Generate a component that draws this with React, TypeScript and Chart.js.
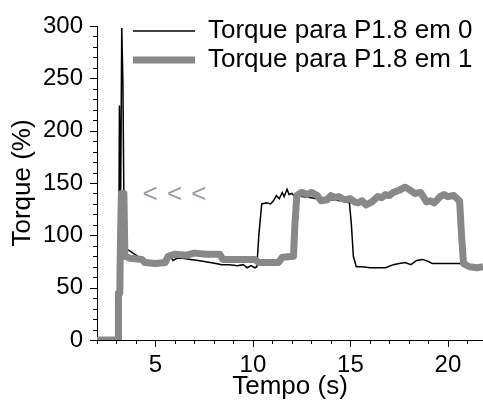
import React, { useEffect, useRef } from 'react';
import { Chart, registerables } from 'chart.js';

Chart.register(...registerables);

const FONT = "'Liberation Sans', Arial, Helvetica, sans-serif";

// [tempo (s), torque (%)]
const torqueP0: [number, number][] = [
  [2.0, 0], [3.1, 0], [3.15, 224], [3.21, 130], [3.27, 298], [3.33, 245], [3.4, 86],
  [3.6, 86], [3.85, 83], [4.1, 80], [4.35, 77], [4.7, 75], [5.1, 74], [5.5, 74],
  [5.65, 76], [5.75, 80], [5.9, 76], [6.1, 78], [6.4, 78], [6.8, 77], [7.2, 76],
  [7.5, 75], [7.8, 74], [8.1, 73], [8.4, 72], [8.8, 72], [9.2, 71], [9.5, 72],
  [9.7, 69], [9.9, 71], [10.1, 69], [10.2, 70], [10.3, 100], [10.45, 130], [10.7, 131],
  [10.9, 130], [11.05, 133], [11.2, 138], [11.35, 135], [11.5, 141], [11.6, 137],
  [11.75, 144], [11.85, 139], [12.0, 140], [12.1, 138], [12.5, 137], [13.0, 136],
  [13.5, 134], [14.0, 134], [14.5, 133], [14.95, 131], [15.05, 110], [15.15, 80],
  [15.3, 70], [15.6, 70], [16.0, 69], [16.4, 69], [16.8, 69], [17.2, 72], [17.5, 73],
  [17.8, 74], [18.1, 72], [18.4, 76], [18.7, 77], [19.0, 75], [19.2, 73], [19.5, 73],
  [19.9, 73], [20.3, 73], [20.6, 73], [21.0, 71], [21.4, 70], [21.8, 70],
];

const torqueP1: [number, number][] = [
  [2.0, 0], [3.08, 0], [3.1, 45], [3.17, 45], [3.2, 90], [3.25, 140], [3.38, 140],
  [3.43, 80], [3.7, 78], [4.3, 77], [4.45, 74], [5.0, 73], [5.5, 74], [5.65, 80],
  [6.0, 82], [6.6, 81], [7.0, 83], [7.6, 82], [8.3, 82], [8.45, 77], [9.0, 77],
  [10.1, 77], [10.3, 74], [11.3, 74], [11.5, 79], [12.08, 80], [12.15, 110],
  [12.25, 138], [12.5, 141], [12.8, 139], [13.0, 141], [13.3, 138], [13.5, 133],
  [13.8, 134], [14.0, 138], [14.2, 136], [14.4, 137], [14.7, 134], [15.0, 135],
  [15.2, 132], [15.4, 131], [15.6, 133], [15.8, 129], [16.1, 132], [16.4, 137],
  [16.6, 136], [16.8, 139], [17.0, 138], [17.2, 141], [17.5, 143], [17.8, 146],
  [18.0, 144], [18.3, 140], [18.6, 141], [18.9, 132], [19.1, 133], [19.3, 131],
  [19.6, 137], [19.8, 139], [20.0, 137], [20.3, 138], [20.6, 133], [20.7, 100],
  [20.8, 73], [21.1, 70], [21.5, 69], [21.8, 70],
];

const seriesLabels = ['Torque para P1.8 em 0', 'Torque para P1.8 em 1'];
const xTitle = 'Tempo (s)';
const yTitle = 'Torque (%)';
const xRange = [2, 21.8];
const yRange = [0, 300];
const xMinorStep = 1;
const xMajorStep = 5;
const yMinorStep = 10;
const yMajorStep = 50;
const annotationText = '< < <';
const annotationAt = { x: 6.0, y: 139 };

const tickMarks = {
  id: 'tickMarks',
  afterDraw(chart: any) {
    const { ctx } = chart;
    const xs = chart.scales.x;
    const ys = chart.scales.y;
    ctx.save();
    ctx.strokeStyle = '#000';
    ctx.lineWidth = 1;
    ctx.beginPath();
    xs.ticks.forEach((t: any) => {
      const px = Math.round(xs.getPixelForValue(t.value)) + 0.5;
      const len = Math.abs(t.value % xMajorStep) < 1e-6 ? 7 : 4;
      ctx.moveTo(px, xs.top);
      ctx.lineTo(px, xs.top + len);
    });
    ys.ticks.forEach((t: any) => {
      const py = Math.round(ys.getPixelForValue(t.value)) + 0.5;
      const len = Math.abs(t.value % yMajorStep) < 1e-6 ? 7 : 4;
      ctx.moveTo(ys.right, py);
      ctx.lineTo(ys.right - len, py);
    });
    ctx.stroke();
    // annotation
    ctx.fillStyle = '#9a9aa8';
    ctx.font = `26px ${FONT}`;
    ctx.textAlign = 'center';
    ctx.textBaseline = 'middle';
    try { (ctx as any).letterSpacing = '1px'; } catch (e) {}
    ctx.fillText(annotationText, xs.getPixelForValue(annotationAt.x), ys.getPixelForValue(annotationAt.y));
    ctx.restore();
  },
};

const legendPlace = {
  id: 'legendPlace',
  afterLayout(chart: any) {
    const lg = chart.legend;
    const ca = chart.chartArea;
    if (!lg || !ca) return;
    lg.left = ca.left + 33;
    lg.right = ca.right;
    lg.top = ca.top - 11;
    lg.bottom = ca.bottom;
    lg.width = lg.right - lg.left;
    lg.height = lg.bottom - lg.top;
  },
};

export default function App() {
  const ref = useRef<HTMLCanvasElement | null>(null);

  useEffect(() => {
    if (!ref.current) return;
    const chart = new Chart(ref.current, {
      type: 'line',
      data: {
        datasets: [
          {
            label: seriesLabels[0],
            data: torqueP0.map(([x, y]) => ({ x, y })),
            borderColor: '#000000',
            backgroundColor: '#000000',
            borderWidth: 1.5,
            pointRadius: 0,
            tension: 0,
            order: 1,
            clip: 0,
          },
          {
            label: seriesLabels[1],
            data: torqueP1.map(([x, y]) => ({ x, y })),
            borderColor: '#888888',
            backgroundColor: '#888888',
            borderWidth: 7,
            borderJoinStyle: 'round',
            pointRadius: 0,
            tension: 0,
            order: 0,
            clip: 0,
          },
        ],
      },
      options: {
        responsive: false,
        animation: false,
        devicePixelRatio: 1,
        layout: { padding: { top: 24, right: 0, bottom: 0, left: 0 } },
        plugins: {
          tooltip: { enabled: false },
          legend: {
            position: 'chartArea',
            align: 'start',
            labels: {
              font: { family: FONT, size: 26, lineHeight: 1 },
              color: '#000',
              usePointStyle: true,
              pointStyle: 'line',
              pointStyleWidth: 62,
              padding: 3,
              sort: (a: any, b: any) => a.datasetIndex - b.datasetIndex,
            },
          },
        },
        scales: {
          x: {
            type: 'linear',
            min: xRange[0],
            max: xRange[1],
            afterFit: (s: any) => { s.height = 63; },
            grid: { display: false, drawTicks: false },
            border: { display: true, color: '#000', width: 1 },
            ticks: {
              stepSize: xMinorStep,
              includeBounds: false,
              autoSkip: false,
              maxRotation: 0,
              padding: 13,
              color: '#000',
              font: { family: FONT, size: 24, lineHeight: 1 },
              callback: (v: any) => (Math.abs(Number(v) % xMajorStep) < 1e-6 ? String(v) : ''),
            },
            title: {
              display: true,
              text: xTitle,
              color: '#000',
              font: { family: FONT, size: 26, lineHeight: 1 },
              padding: { top: 0, bottom: 3 },
            },
          },
          y: {
            type: 'linear',
            min: yRange[0],
            max: yRange[1],
            afterFit: (s: any) => { s.width = 97; },
            grid: { display: false, drawTicks: false },
            border: { display: true, color: '#000', width: 1 },
            ticks: {
              stepSize: yMinorStep,
              includeBounds: false,
              autoSkip: false,
              padding: 14,
              color: '#000',
              font: { family: FONT, size: 24, lineHeight: 1 },
              callback: (v: any) => (Math.abs(Number(v) % yMajorStep) < 1e-6 ? String(v) : ''),
            },
            title: {
              display: true,
              text: yTitle,
              color: '#000',
              font: { family: FONT, size: 26, lineHeight: 1 },
              padding: { top: 10, bottom: 0 },
            },
          },
        },
      },
      plugins: [tickMarks, legendPlace],
    } as any);
    return () => chart.destroy();
  }, []);

  return (
    <div style={{ position: 'fixed', left: 0, top: 0, width: 483, height: 403, background: '#fff' }}>
      <canvas ref={ref} width={483} height={403} style={{ width: 483, height: 403, display: 'block' }} />
    </div>
  );
}
